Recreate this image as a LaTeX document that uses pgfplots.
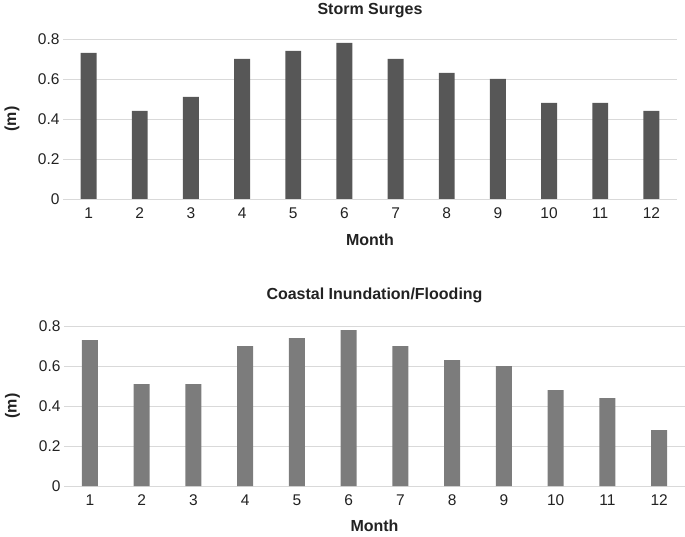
\documentclass[border=0pt]{standalone}
\usepackage{fontspec}
\setmainfont{Liberation Sans}
\usepackage{pgfplots}
\pgfplotsset{compat=1.18}
\definecolor{barA}{HTML}{575757}
\definecolor{barB}{HTML}{7C7C7C}
\definecolor{gridc}{HTML}{D9D9D9}
\definecolor{txt}{HTML}{222222}
\pgfplotsset{
  every axis title shift=0pt,
  monthbars/.style={
    anchor=south west,
    scale only axis,
    height=160pt,
    xmin=0.5, xmax=12.5,
    ymin=0, ymax=0.8,
    xtick={1,...,12},
    ytick={0,0.2,0.4,0.6,0.8},
    yticklabels={0,0.2,0.4,0.6,0.8},
    major tick length=0pt,
    axis x line*=bottom,
    axis y line*=left,
    y axis line style={draw=none},
    x axis line style={draw=gridc, line width=0.8pt, -},
    ymajorgrids,
    grid style={draw=gridc, line width=0.8pt},
    /pgf/number format/assume math mode=true,
    tick label style={font=\fontsize{15.5}{18}\selectfont, text=txt},
    xticklabel style={yshift=-5pt},
    xlabel={Month},
    ylabel={(m)},
    label style={font=\bfseries\fontsize{16}{18}\selectfont, text=txt},
    title style={font=\bfseries\fontsize{16}{18}\selectfont, text=txt, anchor=center, yshift=0pt},
    ybar, bar width=0.31,
    clip=false,
  }
}
\begin{document}
\begin{tikzpicture}
\useasboundingbox (0,0) rectangle (685pt,536pt);
\begin{axis}[monthbars,
  at={(63pt,337pt)}, width=614pt,
  title={Storm Surges},
  title style={at={(axis description cs:0.5,1.175)}},
  xlabel style={at={(axis description cs:0.5,-0.255)}, anchor=center},
  ylabel style={at={(axis description cs:-0.083,0.5)}, anchor=center, rotate=0},
]
\addplot[fill=barA, draw=none] coordinates {
(1,0.73) (2,0.44) (3,0.51) (4,0.70) (5,0.74) (6,0.78)
(7,0.70) (8,0.63) (9,0.60) (10,0.48) (11,0.48) (12,0.44)};
\end{axis}
\begin{axis}[monthbars,
  at={(64pt,50pt)}, width=621pt,
  title={Coastal Inundation/Flooding},
  title style={at={(axis description cs:0.5,1.19)}},
  xlabel style={at={(axis description cs:0.5,-0.25)}, anchor=center},
  ylabel style={at={(axis description cs:-0.083,0.5)}, anchor=center, rotate=0},
]
\addplot[fill=barB, draw=none] coordinates {
(1,0.73) (2,0.51) (3,0.51) (4,0.70) (5,0.74) (6,0.78)
(7,0.70) (8,0.63) (9,0.60) (10,0.48) (11,0.44) (12,0.28)};
\end{axis}
\end{tikzpicture}
\end{document}
